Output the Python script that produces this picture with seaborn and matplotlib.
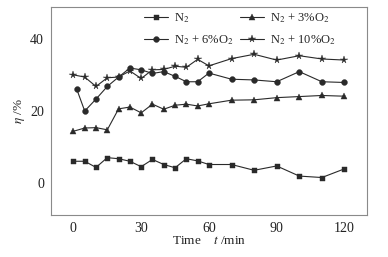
import matplotlib
matplotlib.use("Agg")
import matplotlib.pyplot as plt
import seaborn as sns
import pandas as pd

times = [0, 5, 10, 15, 20, 25, 30, 35, 40, 45, 50, 55, 60, 70, 80, 90, 100, 110, 120]
times_6 = [1.5, 5, 10, 15, 20, 25, 30, 35, 40, 45, 50, 55, 60, 70, 80, 90, 100, 110, 120]
n2 = [6.1, 6.1, 4.4, 7.1, 6.8, 6.1, 4.6, 6.6, 5.2, 4.3, 6.8, 6.2, 5.2, 5.2, 3.6, 4.8, 2.0, 1.6, 4.0]
o2_3 = [14.4, 15.3, 15.4, 14.8, 20.6, 21.1, 19.5, 21.9, 20.5, 21.6, 21.9, 21.4, 22.0, 23.0, 23.1, 23.7, 24.0, 24.3, 24.1]
o2_6 = [26.0, 20.0, 23.3, 26.8, 29.4, 31.9, 31.4, 30.4, 30.9, 29.6, 28.1, 28.1, 30.5, 28.8, 28.6, 28.1, 30.9, 28.1, 27.9]
o2_10 = [30.0, 29.4, 26.8, 29.2, 29.4, 31.1, 29.0, 31.4, 31.5, 32.4, 32.1, 34.3, 32.5, 34.5, 35.7, 34.1, 35.3, 34.4, 34.1]

labels = [r"N$_2$", r"N$_2$ + 3%O$_2$", r"N$_2$ + 6%O$_2$", r"N$_2$ + 10%O$_2$"]
xticks = [0, 30, 60, 90, 120]
yticks = [0, 20, 40]

sns.set_style("white")
plt.rcParams["font.family"] = ["Liberation Serif", "DejaVu Serif"]
plt.rcParams["mathtext.fontset"] = "stix"

fig = plt.figure(figsize=(3.88, 2.57), dpi=100)
ax = fig.add_axes([0.131, 0.163, 0.815, 0.81])

series = [(times, n2, "s", 3.6), (times, o2_3, "^", 4.2), (times_6, o2_6, "o", 4.2), (times, o2_10, "*", 5.5)]
col = "#2a2a2a"
for (t, v, m, ms), lab in zip(series, labels):
    df = pd.DataFrame({"t": t, "v": v})
    sns.lineplot(data=df, x="t", y="v", ax=ax, marker=m, markersize=ms, color=col,
                 linewidth=0.8, markeredgewidth=0.3, markeredgecolor=col, label=lab)

ax.set_xlim(-10, 130)
ax.set_ylim(-8.8, 48.8)
ax.set_xticks(xticks)
ax.set_yticks(yticks)
ax.tick_params(direction="in", length=2.5, width=0.6, labelsize=10, colors="#222222", pad=5)
for s in ax.spines.values():
    s.set_color("#8a8a8a")
    s.set_linewidth(0.8)
ax.set_xlabel(r"Time    $t$ /min", fontsize=9.5, labelpad=0, color="#222222")
ax.set_ylabel(r"$\eta$ /%", fontsize=9.5, labelpad=2, color="#222222")

handles, labs = ax.get_legend_handles_labels()
order = [0, 2, 1, 3]
leg = ax.legend([handles[i] for i in order], [labs[i] for i in order], ncol=2, frameon=False,
                loc="upper left", bbox_to_anchor=(0.26, 1.035), fontsize=9,
                handlelength=1.9, handletextpad=0.5, columnspacing=0.5, labelspacing=0.7)

fig.savefig("out.png", dpi=100)
